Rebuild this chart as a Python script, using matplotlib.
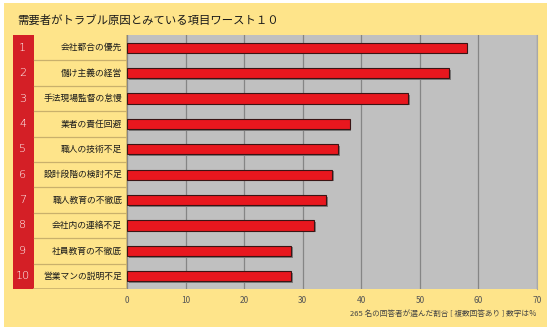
import matplotlib
matplotlib.use('Agg')
import matplotlib.pyplot as plt
import matplotlib.patheffects as pe
from matplotlib.patches import Rectangle

plt.rcParams['font.family'] = ['Noto Sans CJK JP', 'DejaVu Sans']

# data
ranks = ['1', '2', '3', '4', '5', '6', '7', '8', '9', '10']
items = ['会社都合の優先', '儲け主義の経営', '手法現場監督の怠慢', '業者の責任回避', '職人の技術不足',
         '設計段階の検討不足', '職人教育の不徹底', '会社内の連絡不足', '社員教育の不徹底', '営業マンの説明不足']
percent = [58, 55, 48, 38, 36, 35, 34, 32, 28, 28]
xticks = [0, 10, 20, 30, 40, 50, 60, 70]

W, H = 547, 330
bg_yellow = '#fee48a'
tan = '#c9b06c'

fig = plt.figure(figsize=(W / 100, H / 100), dpi=100)
fig.patch.set_facecolor('white')
fig.add_artist(Rectangle((4 / W, 3 / H), 1 - 4 / W, 1 - 6 / H, transform=fig.transFigure,
                         facecolor=bg_yellow, edgecolor='none', zorder=0))

# main bar area
top, bot = 35, 289
ax = fig.add_axes([127 / W, 1 - bot / H, 410 / W, (bot - top) / H])
ax.set_facecolor('#c0c0c0')
pos = list(range(len(items)))
bars = ax.barh(pos, percent, height=0.4, color='#e8171e', edgecolor='#3a1414', linewidth=0.8, zorder=3)
for b in bars:
    b.set_path_effects([pe.SimplePatchShadow(offset=(1.2, -1.2), shadow_rgbFace='#7a7a7a', alpha=1), pe.Normal()])
ax.set_xlim(0, 70)
ax.set_ylim(len(items) - 0.5, -0.5)
ax.set_xticks(xticks)
ax.set_xticklabels([str(t) for t in xticks], fontsize=6, color='#555555')
ax.set_yticks([])
ax.tick_params(axis='x', length=0, pad=5)
ax.grid(axis='x', color='#858585', linewidth=0.9, zorder=1)
ax.set_axisbelow(True)
for s in ax.spines.values():
    s.set_visible(False)
ax.spines['right'].set_visible(True)
ax.spines['right'].set_color('#a8a8a8')

# left side: rank column and labels
side = fig.add_axes([12.7 / W, 1 - bot / H, (127 - 12.7) / W, (bot - top) / H])
side.set_xlim(0, 127 - 12.7)
side.set_ylim(len(items) - 0.5, -0.5)
side.axis('off')
side.add_patch(Rectangle((0, -0.5), 21.3, len(items), facecolor='#d41f26', edgecolor='none'))
side.add_patch(Rectangle((21.3, -0.5), 114.3 - 21.3, len(items), facecolor=bg_yellow,
                         edgecolor='none'))
for i in range(1, len(items)):
    side.plot([21.3, 114.3], [i - 0.5, i - 0.5], color=tan, linewidth=0.9)
side.plot([21.3, 114.3], [len(items) - 0.5, len(items) - 0.5], color=tan, linewidth=1.2)
side.plot([114.3, 114.3], [-0.5, len(items) - 0.5], color=tan, linewidth=1.2)
for i, (r, lab) in enumerate(zip(ranks, items)):
    side.text(9.8, i, r, ha='center', va='center', color='white', fontsize=8,
              family=['DejaVu Sans'], fontweight='light')
    side.text(109.5, i, lab, ha='right', va='center', color='#1a1a1a', fontsize=6.3)

fig.text(17 / W, 1 - 20 / H, '需要者がトラブル原因とみている項目ワースト１０', ha='left', va='center',
         fontsize=8.2, color='#1a1a1a')
fig.text(537 / W, 1 - 314 / H, '265 名の回答者が選んだ割合 [ 複数回答あり ] 数字は％', ha='right',
         va='center', fontsize=5.5, color='#444444')

fig.savefig('out.png', dpi=100)
